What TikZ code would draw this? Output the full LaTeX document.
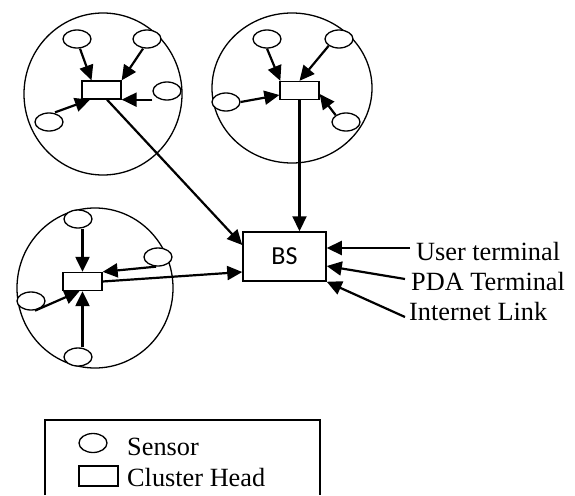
\documentclass[tikz,border=0pt]{standalone}
\usepackage{fontspec}
\setmainfont{Liberation Serif}
\newfontfamily\bsfont{Carlito}
\usetikzlibrary{arrows.meta,shapes.geometric,calc}
\tikzset{
  sensor/.style={ellipse, draw, fill=white, line width=1.3pt, minimum width=28pt, minimum height=18pt, inner sep=0pt},
  chead/.style={rectangle, draw, fill=white, line width=1.3pt, minimum width=39pt, minimum height=18pt, inner sep=0pt},
  cluster/.style={line width=1.3pt},
  link/.style={line width=2.2pt, -{Triangle[length=15pt 0 0,width=14pt 0 0]}},
  lbl/.style={font=\fontsize{26.3}{30}\selectfont, inner sep=0pt, anchor=base west},
}
\begin{document}
\begin{tikzpicture}[x=1pt,y=-1pt]
\useasboundingbox (0,0) rectangle (575,495);
% cluster circles
\draw[cluster] (103,94) ellipse [x radius=79pt, y radius=81pt];
\draw[cluster] (292,88) ellipse [x radius=80pt, y radius=75pt];
\draw[cluster] (95,288) ellipse [x radius=78pt, y radius=80pt];
% cluster 1
\node[chead] (ch1) at (101.5,90) {};
\node[sensor] (s1a) at (77,39) {};
\node[sensor] (s1b) at (147,39) {};
\node[sensor] (s1c) at (167,91) {};
\node[sensor] (s1d) at (49,122) {};
% cluster 2
\node[chead] (ch2) at (299.5,90.5) {};
\node[sensor] (s2a) at (267,39) {};
\node[sensor] (s2b) at (339,39) {};
\node[sensor] (s2c) at (226,102) {};
\node[sensor] (s2d) at (346,122) {};
% cluster 3
\node[chead] (ch3) at (82.5,281.5) {};
\node[sensor] (s3a) at (78,219) {};
\node[sensor] (s3b) at (158,257) {};
\node[sensor] (s3c) at (31,301) {};
\node[sensor] (s3d) at (78,357) {};
% base station
\node[rectangle, draw, line width=1.5pt, minimum width=83pt, minimum height=49pt, inner sep=0pt,
      font=\bsfont\fontsize{26}{30}\selectfont] (bs) at (284.5,256.5) {BS};
% labels
\node[lbl] (ut) at (416,260) {User terminal};
\node[lbl] (pda) at (411,290) {PDA Terminal};
\node[lbl] (inet) at (409,320) {Internet Link};
% cluster 1 links
\draw[link] ([xshift=3pt]s1a.south) -- ([xshift=-10pt]ch1.north);
\draw[link] ([xshift=-4pt]s1b.south) -- (ch1.north east);
\draw[link] (ch1.south east -| s1c.west) -- (ch1.south east);
\draw[link] ([xshift=6pt]s1d.north) -- ([xshift=-11.5pt]ch1.south);
% cluster 2 links
\draw[link] (s2a.south) -- ([xshift=1pt]ch2.north west);
\draw[link] (s2b.south west) -- (ch2.north);
\draw[link] (s2c.east) -- ([yshift=-4.5pt]ch2.west);
\draw[link] (s2d.north west) -- ([yshift=-3.5pt]ch2.east);
% cluster 3 links
\draw[link] (ch3.north |- s3a.south) -- (ch3.north);
\draw[link] ([xshift=-2pt]s3b.south) -- (ch3.north east);
\draw[link] ([xshift=4pt]s3c.south) -- ([xshift=-3pt]ch3.south);
\draw[link] (ch3.south |- s3d.north) -- (ch3.south);
% to base station
\draw[link] ([xshift=5.5pt]ch1.south) -- ([yshift=11.5pt]bs.west);
\draw[link] (ch2.south) -- (ch2.south |- bs.north);
\draw[link] (ch3.east) -- ([yshift=-15.5pt]bs.west);
% terminals
\draw[link] ([xshift=-6pt,yshift=12pt]ut.base west) -- ([yshift=8.5pt]bs.east);
\draw[link] ([xshift=-6pt,yshift=11pt]pda.base west) -- ([yshift=-9.5pt]bs.east);
\draw[link] ([xshift=-4pt,yshift=3pt]inet.base west) -- (bs.south east);
% legend
\coordinate (lgbl) at (45,495);
\coordinate (lgtr) at (320,420);
\draw[line width=1.3pt] (lgbl) |- (lgtr) -- (lgtr |- lgbl);
\node[sensor, minimum width=28pt, minimum height=19pt] (lgs) at (93,443) {};
\node[chead, minimum height=20pt] (lgc) at (98.5,476) {};
\node[lbl] (lgst) at (127,455) {Sensor};
\node[lbl] (lgct) at (127,486) {Cluster Head};
\end{tikzpicture}
\end{document}
